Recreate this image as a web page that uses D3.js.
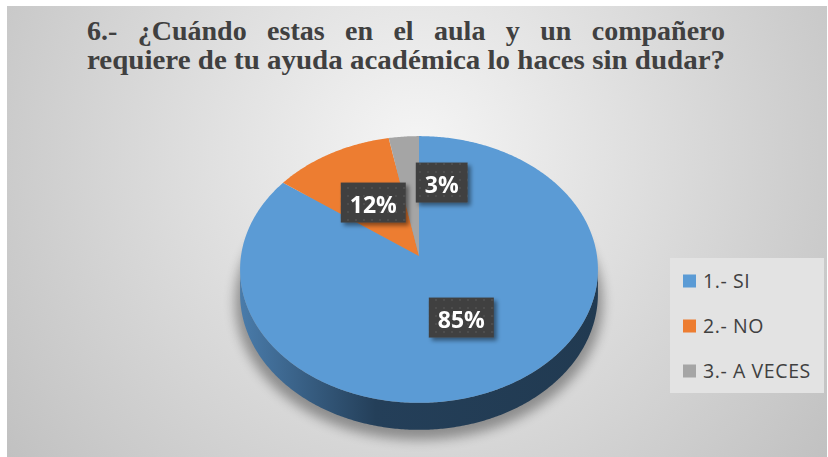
<!DOCTYPE html>
<html>
<head>
<meta charset="utf-8">
<script src="https://cdn.jsdelivr.net/npm/d3@7"></script>
<style>
  body { margin: 0; background: #fff; }
  .title text { font-family: "Liberation Serif", "Tinos", "Noto Serif", "DejaVu Serif", "FreeSerif", "Times", serif; font-weight: bold; }
</style>
</head>
<body>
<script>
// data
var categories = ['1.- SI', '2.- NO', '3.- A VECES']
var values = [85, 12, 3]
var colors = ['#5b9bd5', '#ed7d31', '#a5a5a5']
var titleLines = ['6.- ¿Cuándo estas en el aula y un compañero',
  'requiere de tu ayuda académica lo haces sin dudar?']

var w = 828
var h = 457

var svg = d3.select('body')
  .append('svg')
  .attr('width', w)
  .attr('height', h)

var defs = svg.append('defs')

var bg = defs.append('radialGradient')
  .attr('id', 'bg')
  .attr('gradientUnits', 'userSpaceOnUse')
  .attr('cx', 417).attr('cy', 150).attr('r', 560)
bg.append('stop').attr('offset', 0).attr('stop-color', '#f5f5f5')
bg.append('stop').attr('offset', 1).attr('stop-color', '#bcbcbc')

// pie geometry (perspective view of a circle)
var cx = 419
var apexY = 256
var a = 178
var b = 132
var e = 0.101
var thick = 24.3

var sideGrad = defs.append('linearGradient')
  .attr('id', 'side')
  .attr('gradientUnits', 'userSpaceOnUse')
  .attr('x1', cx - 180).attr('x2', cx + 180).attr('y1', 0).attr('y2', 0)
sideGrad.append('stop').attr('offset', 0).attr('stop-color', '#4a7cab')
sideGrad.append('stop').attr('offset', 0.38).attr('stop-color', '#243f59')
sideGrad.append('stop').attr('offset', 1).attr('stop-color', '#213a51')

var blur = defs.append('filter').attr('id', 'blur')
  .attr('x', '-20%').attr('y', '-20%').attr('width', '140%').attr('height', '140%')
blur.append('feGaussianBlur').attr('stdDeviation', 6)

var drop = defs.append('filter').attr('id', 'drop')
  .attr('x', '-30%').attr('y', '-30%').attr('width', '170%').attr('height', '170%')
drop.append('feDropShadow').attr('dx', 3).attr('dy', 3).attr('stdDeviation', 2)
  .attr('flood-color', '#000').attr('flood-opacity', 0.45)

var pat = defs.append('pattern').attr('id', 'dots')
  .attr('patternUnits', 'userSpaceOnUse')
  .attr('width', 8).attr('height', 8)
pat.append('rect').attr('width', 8).attr('height', 8).attr('fill', '#3f3f3f')
pat.append('circle').attr('cx', 4).attr('cy', 4).attr('r', 1.3).attr('fill', '#4d4d4d')

// background
svg.append('rect')
  .attr('x', 7).attr('y', 6)
  .attr('width', 820).attr('height', 451)
  .attr('fill', 'url(#bg)')

// title
var title = svg.append('g')
  .attr('class', 'title')
  .attr('font-size', '28px')
  .attr('fill', '#404040')

var tx0 = 87
var tx1 = 725
// first line justified word by word
var words = titleLines[0].split(' ')
var wordEls = words.map(function (wd) {
  return title.append('text').attr('y', 40).text(wd)
})
var widths = wordEls.map(function (el) { return el.node().getComputedTextLength() })
var gap = (tx1 - tx0 - d3.sum(widths)) / (words.length - 1)
var xpos = tx0
wordEls.forEach(function (el, i) {
  el.attr('x', xpos)
  xpos += widths[i] + gap
})
title.append('text')
  .attr('x', tx0).attr('y', 69)
  .attr('textLength', tx1 - tx0)
  .attr('lengthAdjust', 'spacingAndGlyphs')
  .text(titleLines[1])

// pie
var pie = d3.pie().sort(null).value(function (d) { return d })
var arcs = pie(values)

function proj (theta, f, dy) {
  var u = f * Math.sin(theta)
  var v = f * Math.cos(theta)
  var k = 1 + e * v
  return [cx + a * u / k, apexY - b * v / k + (dy ? dy / k : 0)]
}

function arcPoints (t0, t1, f, dy) {
  var n = Math.max(2, Math.ceil(Math.abs(t1 - t0) / 0.01))
  var pts = []
  for (var i = 0; i <= n; i++) {
    pts.push(proj(t0 + (t1 - t0) * i / n, f, dy))
  }
  return pts
}

var line = d3.line()

// shadow under the pie
svg.append('ellipse')
  .attr('cx', cx).attr('cy', 302)
  .attr('rx', 184).attr('ry', 138)
  .attr('fill', '#000').attr('opacity', 0.35)
  .attr('filter', 'url(#blur)')

// side wall (front part only)
var ts = Math.acos(-e)
var te = 2 * Math.PI - ts
arcs.forEach(function (d, i) {
  var s0 = Math.max(d.startAngle, ts)
  var s1 = Math.min(d.endAngle, te)
  if (s1 <= s0) return
  var top = arcPoints(s0, s1, 1, 0)
  var bot = arcPoints(s1, s0, 1, thick)
  svg.append('path')
    .attr('d', line(top.concat(bot)) + 'Z')
    .attr('fill', i === 0 ? 'url(#side)' : d3.color(colors[i]).darker(1.2))
})

// top face
svg.selectAll('path.slice')
  .data(arcs)
  .enter()
  .append('path')
  .attr('class', 'slice')
  .attr('d', function (d) {
    var pts = [proj(0, 0)].concat(arcPoints(d.startAngle, d.endAngle, 1, 0))
    return line(pts) + 'Z'
  })
  .attr('fill', function (d, i) { return colors[i] })

// data labels
var total = d3.sum(values)
var boxes = []
arcs.forEach(function (d, i) {
  var mid = (d.startAngle + d.endAngle) / 2
  var p = proj(mid, 0.5, 0)
  var g = svg.append('g').attr('filter', 'url(#drop)')
  var rect = g.append('rect').attr('fill', 'url(#dots)')
  var t = g.append('text')
    .attr('font-family', "'Open Sans', sans-serif")
    .attr('font-weight', 'bold')
    .attr('font-size', '23px')
    .attr('fill', '#fff')
    .attr('text-anchor', 'middle')
    .text(Math.round(values[i] / total * 100) + '%')
  var bw = t.node().getComputedTextLength() + 18
  var bh = 40
  var box = { x: p[0] - bw / 2, y: p[1] - bh / 2, w: bw, h: bh }
  // move away from an overlapping label
  boxes.forEach(function (o) {
    if (box.x < o.x + o.w && box.x + box.w > o.x && box.y < o.y + o.h && box.y + box.h > o.y) {
      box.x = o.x + o.w + 10
      box.y = o.y - 20
    }
  })
  boxes.push(box)
  rect.attr('x', box.x).attr('y', box.y).attr('width', box.w).attr('height', box.h)
  t.attr('x', box.x + box.w / 2).attr('y', box.y + box.h / 2 + 10)
})

// legend
var legend = svg.append('g')
legend.append('rect')
  .attr('x', 670).attr('y', 258)
  .attr('width', 154).attr('height', 135)
  .attr('fill', '#e3e3e3')

var ly = d3.scalePoint().domain(categories).range([281, 371])

categories.forEach(function (c, i) {
  legend.append('rect')
    .attr('x', 683).attr('y', ly(c) - 6.5)
    .attr('width', 13).attr('height', 13)
    .attr('fill', colors[i])
  legend.append('text')
    .attr('x', 703).attr('y', ly(c) + 7)
    .attr('font-family', "'Open Sans', sans-serif")
    .attr('font-size', '19.5px')
    .attr('letter-spacing', '0.6px')
    .attr('fill', '#404040')
    .text(c)
})
</script>
</body>
</html>
